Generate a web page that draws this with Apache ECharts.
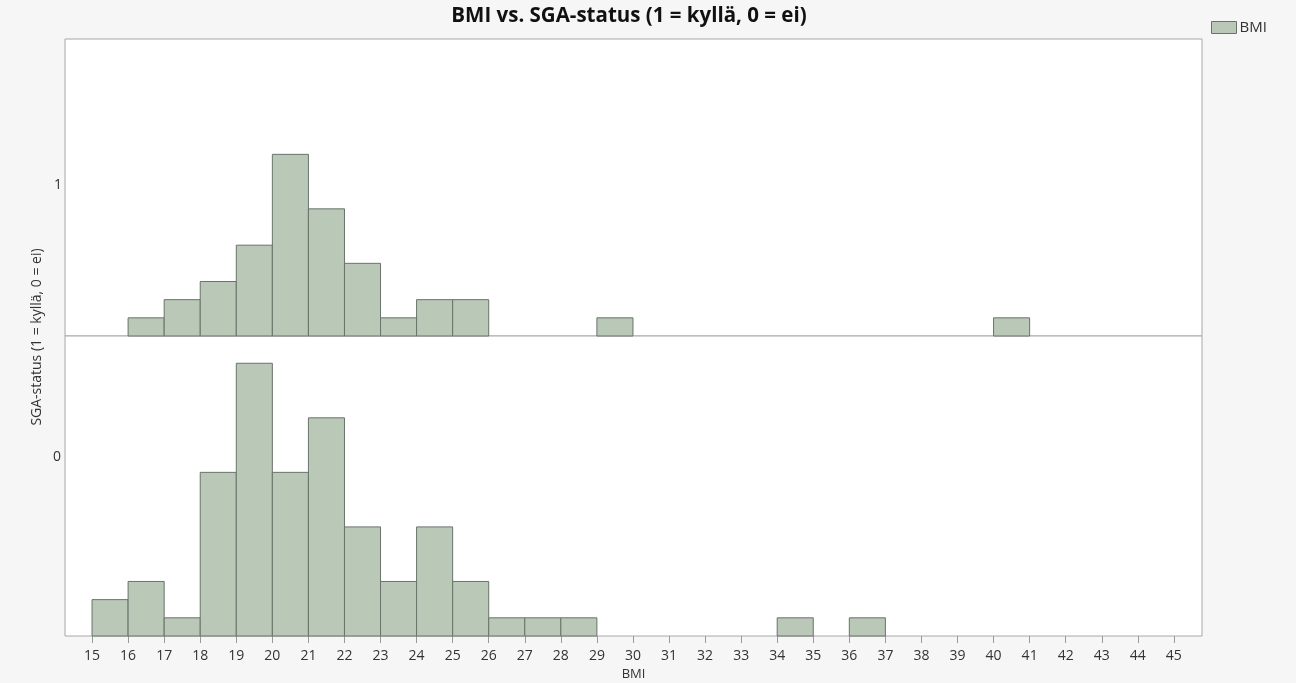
<!DOCTYPE html>
<html>
<head>
<meta charset="utf-8">
<script src="https://cdn.jsdelivr.net/npm/echarts@6/dist/echarts.min.js"></script>
<style>
  html, body { margin: 0; padding: 0; background: #f6f6f6; }
  #chart { width: 1296px; height: 683px; }
</style>
</head>
<body>
<div id="chart"></div>
<script>
// BMI bins (start of 1-unit bin) and counts, SGA = 1 (top panel)
const sga1Starts = [16, 17, 18, 19, 20, 21, 22, 23, 24, 25, 29, 40]
const sga1Counts = [1, 2, 3, 5, 10, 7, 4, 1, 2, 2, 1, 1]

// SGA = 0 (bottom panel)
const sga0Starts = [15, 16, 17, 18, 19, 20, 21, 22, 23, 24, 25, 26, 27, 28, 34, 36]
const sga0Counts = [2, 3, 1, 9, 15, 9, 12, 6, 3, 6, 3, 1, 1, 1, 1, 1]

const binWidth = 1
const xTickValues = [15, 16, 17, 18, 19, 20, 21, 22, 23, 24, 25, 26, 27, 28, 29, 30,
  31, 32, 33, 34, 35, 36, 37, 38, 39, 40, 41, 42, 43, 44, 45]
const yLabels = ['1', '0']

const barFill = '#b9c8b7'
const barEdge = '#69736a'
const fontFam = '"Open Sans", "Noto Sans", sans-serif'

function toData(starts, counts) {
  return starts.map((s, i) => [s, s + binWidth, counts[i]])
}

// histogram rectangles, drawn through the axis scales
function renderBin(params, api) {
  const p0 = api.coord([api.value(0), 0])
  const p1 = api.coord([api.value(1), api.value(2)])
  return {
    type: 'rect',
    shape: { x: p0[0], y: p1[1], width: p1[0] - p0[0], height: p0[1] - p1[1] },
    style: { fill: barFill, stroke: barEdge, lineWidth: 1 }
  }
}

const chart = echarts.init(document.getElementById('chart'))

const xBase = {
  type: 'value',
  min: 14.25,
  max: 45.78,
  splitLine: { show: false },
  axisLine: { show: false }
}

const option = {
  backgroundColor: '#f6f6f6',
  animation: false,
  title: {
    text: 'BMI vs. SGA-status (1 = kyllä, 0 = ei)',
    left: 624,
    textAlign: 'center',
    top: 1,
    textStyle: { fontFamily: fontFam, fontWeight: 'bold', fontSize: 20.5, color: '#111' }
  },
  legend: {
    data: ['BMI'],
    left: 1206,
    top: 15,
    icon: 'rect',
    itemWidth: 25,
    itemHeight: 12,
    itemGap: 4,
    itemStyle: { color: barFill, borderColor: barEdge, borderWidth: 1 },
    textStyle: { fontFamily: fontFam, fontSize: 15, color: '#333', padding: [0, 0, 0, -2] }
  },
  grid: [
    { left: 65, top: 39, width: 1137, height: 297, outerBoundsMode: 'none', show: true, backgroundColor: '#fff', borderColor: '#a8a8a8', borderWidth: 1 },
    { left: 65, top: 336, width: 1137, height: 300, outerBoundsMode: 'none', show: true, backgroundColor: '#fff', borderColor: '#a8a8a8', borderWidth: 1 }
  ],
  xAxis: [
    Object.assign({}, xBase, {
      gridIndex: 0,
      axisTick: { show: false },
      axisLabel: { show: false }
    }),
    Object.assign({}, xBase, {
      gridIndex: 1,
      name: 'BMI',
      nameLocation: 'middle',
      nameGap: 32,
      nameTextStyle: { fontFamily: fontFam, fontSize: 13, color: '#333' },
      axisTick: { show: true, length: 7, lineStyle: { color: '#999' }, customValues: xTickValues },
      axisLabel: {
        fontFamily: fontFam,
        fontSize: 14,
        color: '#333',
        margin: 13,
        customValues: xTickValues
      }
    })
  ],
  yAxis: [
    { type: 'value', gridIndex: 0, min: 0, max: 16.35, show: false },
    { type: 'value', gridIndex: 1, min: 0, max: 16.5, show: false }
  ],
  graphic: [
    { type: 'text', left: 54, top: 178, style: { text: yLabels[0], font: '14px ' + fontFam, fill: '#333' } },
    { type: 'text', left: 53, top: 450, style: { text: yLabels[1], font: '14px ' + fontFam, fill: '#333' } },
    {
      type: 'text', x: 37, y: 337, rotation: Math.PI / 2,
      style: {
        text: 'SGA-status (1 = kyllä, 0 = ei)', font: '14px ' + fontFam, fill: '#333',
        align: 'center', verticalAlign: 'middle'
      }
    }
  ],
  series: [
    {
      name: 'BMI',
      type: 'custom',
      xAxisIndex: 0,
      yAxisIndex: 0,
      renderItem: renderBin,
      encode: { x: [0, 1], y: 2 },
      data: toData(sga1Starts, sga1Counts),
      itemStyle: { color: barFill }
    },
    {
      name: 'BMI',
      type: 'custom',
      xAxisIndex: 1,
      yAxisIndex: 1,
      renderItem: renderBin,
      encode: { x: [0, 1], y: 2 },
      data: toData(sga0Starts, sga0Counts),
      itemStyle: { color: barFill }
    }
  ]
}

chart.setOption(option)
</script>
</body>
</html>
